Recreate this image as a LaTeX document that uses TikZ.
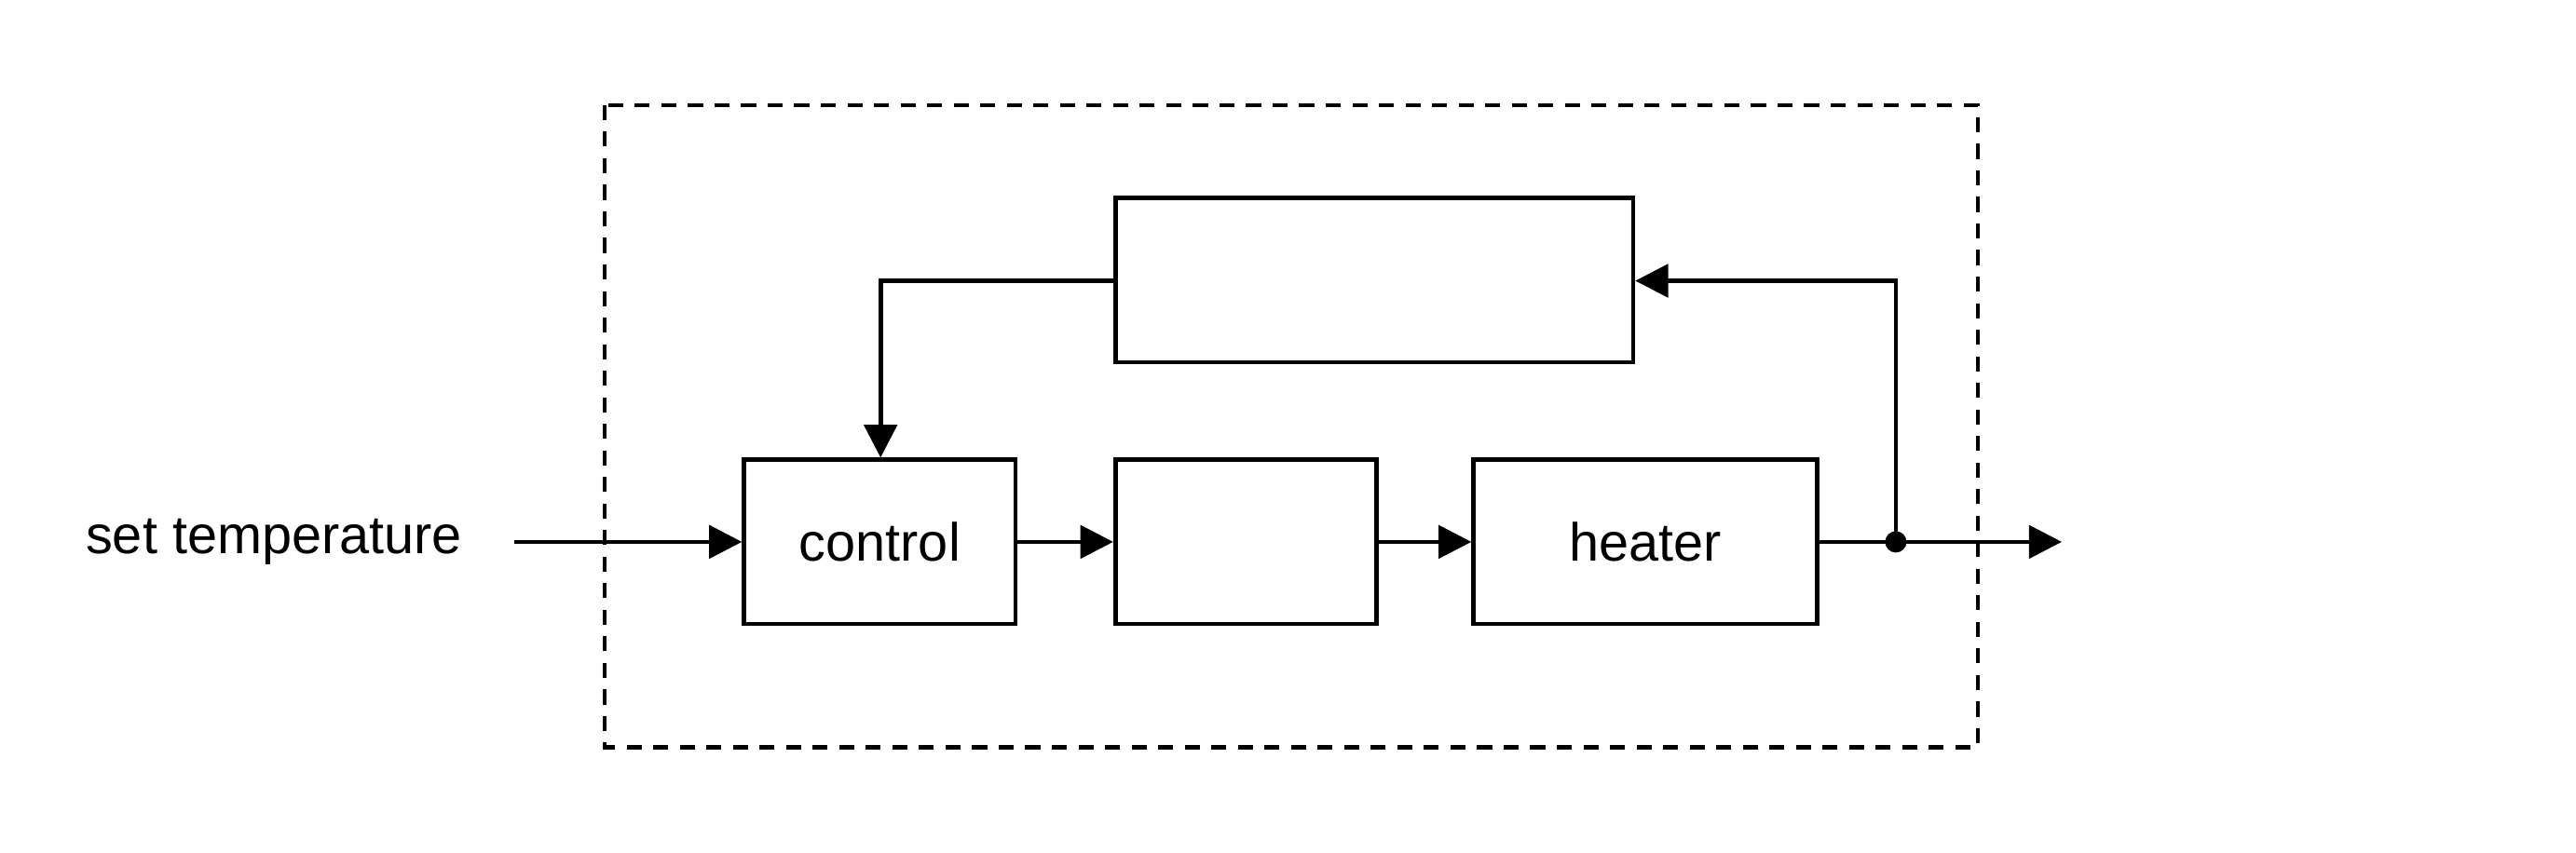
\documentclass[tikz,border=0pt]{standalone}
\usepackage{fontspec}
\setmainfont{Liberation Sans}
\usetikzlibrary{arrows.meta}
\tikzset{
  block/.style={draw,line width=0.75pt,minimum height=1cm,inner sep=0pt,font=\fontsize{9.3}{11}\selectfont},
  sig/.style={line width=0.75pt,-{Triangle[length=0.2cm,width=0.2cm]}},
}
\begin{document}
\begin{tikzpicture}[x=0.01cm,y=-0.01cm]
\useasboundingbox (0,0) rectangle (1568,519);
\draw[line width=0.75pt,dash pattern=on 2.6pt off 2pt] (368,64) rectangle (1204,455);
\node[block,minimum width=3.15cm] (sensor) at (836.5,170.5) {};
\node[block,minimum width=1.65cm] (control) at (535.5,330) {control};
\node[block,minimum width=1.59cm] (act) at (758.5,330) {};
\node[block,minimum width=2.09cm] (heater) at (1001.5,330) {heater};
\node[font=\fontsize{9.3}{11}\selectfont,anchor=east,inner sep=0pt] (set) at (282,330) {set temperature};
\coordinate (in) at (313,330);
\coordinate (out) at (1255,330);
\coordinate (split) at (1154,330);
\coordinate (up) at (1154,171);
\coordinate (left) at (536,171);
\draw[sig] (in) -- (control);
\draw[sig] (control) -- (act);
\draw[sig] (act) -- (heater);
\draw[sig] (heater) -- (out);
\fill (split) circle (6.5);
\draw[sig] (split) -- (up) -- (sensor.east|-up);
\draw[sig] (sensor.west|-left) -- (left) -- (control.north-|left);
\end{tikzpicture}
\end{document}
